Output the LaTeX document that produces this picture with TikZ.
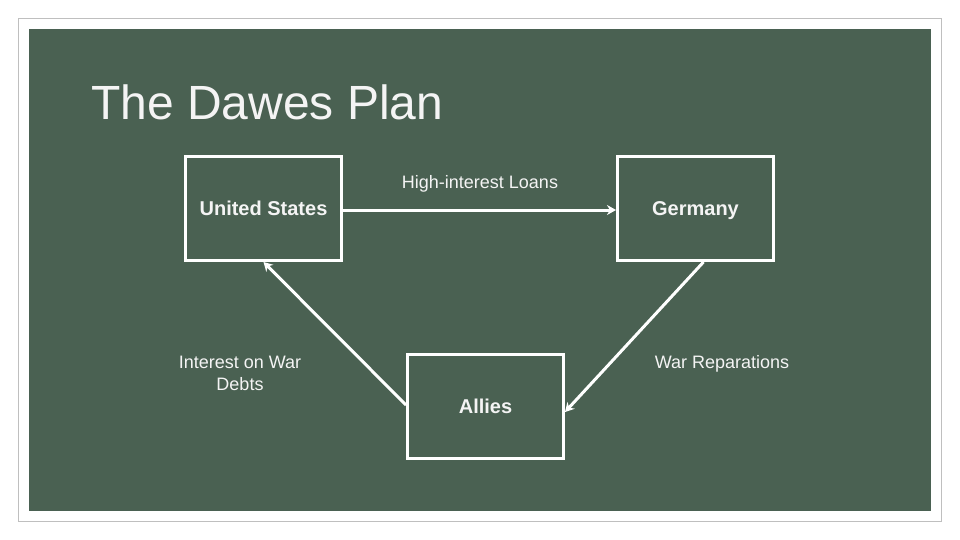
\documentclass[tikz,border=0pt]{standalone}
\usepackage{fontspec}
\setmainfont{Liberation Sans}
\usetikzlibrary{arrows.meta}
\definecolor{bggreen}{HTML}{4A6152}
\definecolor{framegray}{HTML}{BFBFBF}
\definecolor{txt}{HTML}{F4F4F4}
\begin{document}
\begin{tikzpicture}[x=1pt,y=-1pt,
  boxnode/.style={draw=white,line width=3pt,minimum width=156pt,minimum height=104pt,inner sep=0pt,
    text height=14.6pt,text depth=0pt,
    text=txt,font=\fontsize{20}{24}\selectfont\bfseries},
  lbl/.style={text=txt,font=\fontsize{18}{22}\selectfont,align=center,inner sep=0pt},
  arr/.style={draw=white,line width=3pt,-{Stealth[length=9pt,width=10pt]}}]
\useasboundingbox (0,0) rectangle (960,540);
\fill[white] (0,0) rectangle (960,540);
\draw[framegray,line width=1.2pt] (18.5,18.5) rectangle (941.5,521.5);
\fill[bggreen] (29,29) rectangle (931,511);
\node[anchor=base west,inner sep=0pt,text=txt,font=\fontsize{48}{56}\selectfont] (title) at (91,120) {The Dawes Plan};
\node[boxnode] (us) at (263.5,208.5) {United States};
\node[boxnode] (de) at (695.5,208.5) {Germany};
\node[boxnode] (al) at (485.5,406.5) {Allies};
\node[lbl] (loans) at (480,184) {High-interest Loans};
\node[lbl] (debts) at (240,373) {Interest on War\\Debts};
\node[lbl] (rep) at (722,364) {War Reparations};
\draw[arr] ([yshift=-1.5pt]us.east) -- ([yshift=-1.5pt]de.west);
\draw[arr] ([xshift=8pt]de.south) -- ([yshift=-5.5pt]al.east);
\draw[arr] ([yshift=1.5pt]al.west) -- (us.south);
\end{tikzpicture}
\end{document}
